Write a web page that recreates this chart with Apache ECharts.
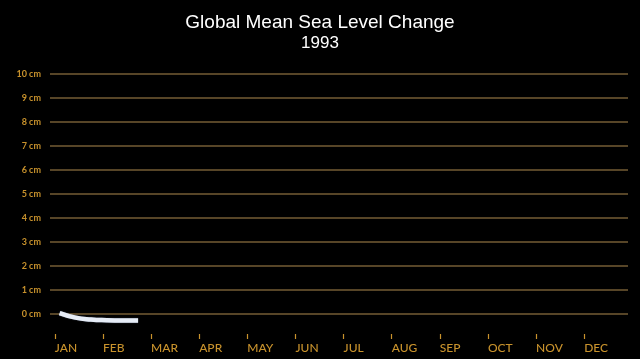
<!DOCTYPE html>
<html>
<head>
<meta charset="utf-8">
<script src="https://cdn.jsdelivr.net/npm/echarts@6/dist/echarts.min.js"></script>
<style>
html,body{margin:0;padding:0;background:#000;}
#chart{width:640px;height:359px;}
</style>
</head>
<body>
<div id="chart"></div>
<script>
var titleText = "Global Mean Sea Level Change";
var yearText = "1993";
var monthLabels = ["JAN","FEB","MAR","APR","MAY","JUN","JUL","AUG","SEP","OCT","NOV","DEC"];
var monthPositions = [0,1,2,3,4,5,6,7,8,9,10,11];
// x in months since Jan 1, y in cm
var seaX = [0.10, 0.43, 0.75, 1.08, 1.40, 1.73];
var seaY = [0.04, -0.15, -0.23, -0.26, -0.27, -0.27];

var gold = "#c8922c";
var xMin = -0.1, xMax = 11.91;
var chart = echarts.init(document.getElementById('chart'));
chart.setOption({
  backgroundColor: '#000',
  animation: false,
  title: [
    {text: titleText, left: 'center', top: 8,
     textStyle: {color: '#fff', fontFamily: 'Liberation Sans', fontSize: 19, fontWeight: 'normal'}},
    {text: yearText, left: 'center', top: 30,
     textStyle: {color: '#fff', fontFamily: 'Liberation Sans', fontSize: 17, fontWeight: 'normal'}}
  ],
  grid: [
    {left: 50, right: 12, top: 74, bottom: 45},
    {left: 50, right: 12, top: 334, height: 5}
  ],
  xAxis: [
    {type: 'value', gridIndex: 0, min: xMin, max: xMax, show: false},
    {
      type: 'value', gridIndex: 1, min: xMin, max: xMax,
      axisLine: {show: false},
      axisTick: {show: true, inside: true, length: 5, customValues: monthPositions, lineStyle: {color: gold, width: 1.2}},
      axisLabel: {
        customValues: monthPositions, align: 'left', margin: 3,
        color: gold, fontFamily: 'Lato', fontWeight: 500, fontSize: 12,
        formatter: function (v) { return monthLabels[Math.round(v)]; }
      },
      splitLine: {show: false}
    }
  ],
  yAxis: [
    {
      type: 'value', gridIndex: 0, min: 0, max: 10, interval: 1,
      axisLine: {show: false}, axisTick: {show: false},
      axisLabel: {color: gold, fontFamily: 'Lato', fontWeight: 'bold', fontSize: 9, margin: 9,
        formatter: function (v) { return v + ' cm'; }},
      splitLine: {lineStyle: {color: '#574527', width: 1.8}}
    },
    {type: 'value', gridIndex: 1, show: false, min: 0, max: 1, splitLine: {show: false}}
  ],
  series: [{
    type: 'line',
    xAxisIndex: 0, yAxisIndex: 0,
    data: seaX.map(function (x, i) { return [x, seaY[i]]; }),
    smooth: true,
    showSymbol: false,
    clip: false,
    lineStyle: {color: '#e6ecf6', width: 4.5, shadowColor: 'rgba(170,190,230,0.6)', shadowBlur: 1}
  }]
});
</script>
</body>
</html>
